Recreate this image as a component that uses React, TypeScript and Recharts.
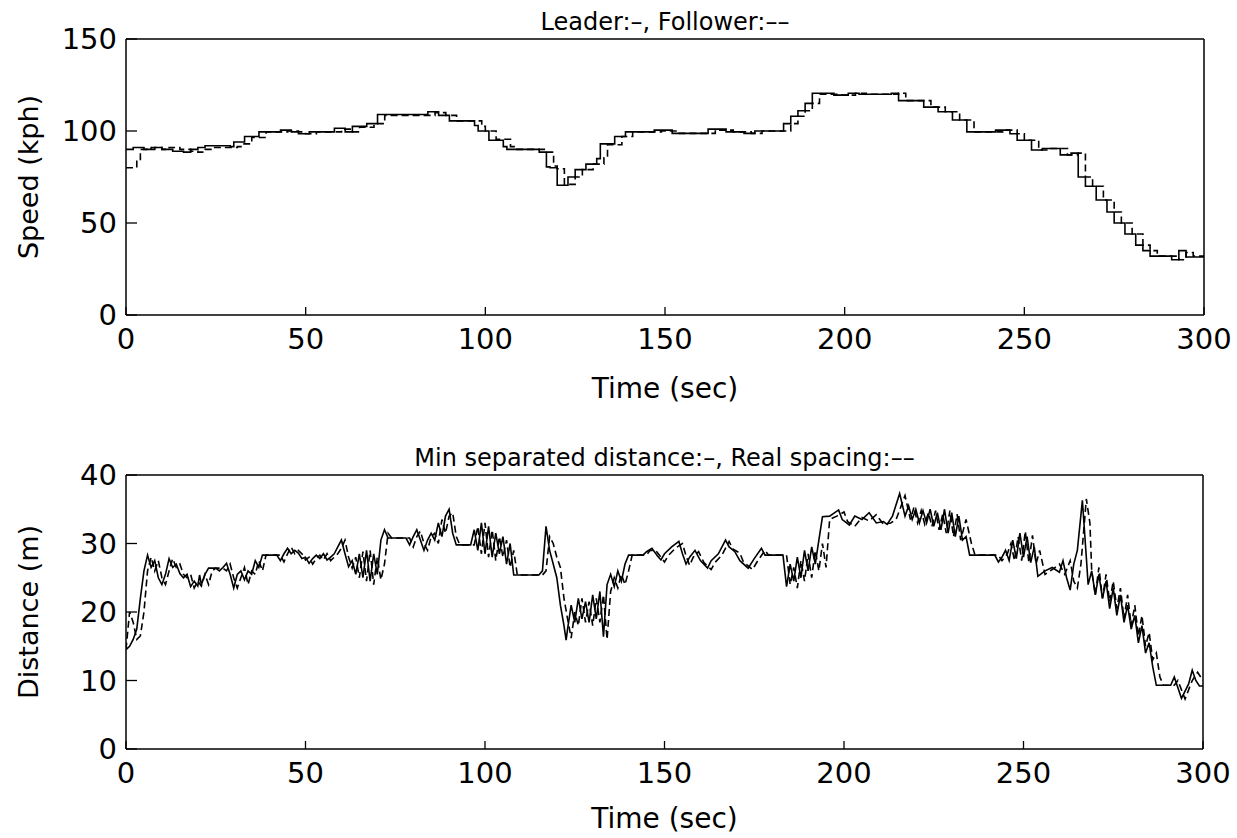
import React from "react";
import { LineChart, Line, XAxis, YAxis } from "recharts";

type Pt = [number, number];

const FONT = '"DejaVu Sans ExtraLight", "DejaVu Sans", "Liberation Sans", sans-serif';

const timeTicks = [0, 50, 100, 150, 200, 250, 300];
const speedTicks = [0, 50, 100, 150];
const distanceTicks = [0, 10, 20, 30, 40];

// speed (kph) of the leading car, [time s, speed]
const leaderSpeed: Pt[] = [
  [0, 90], [2, 91], [5, 90], [8, 91], [10, 90], [13, 89], [16, 88.5], [18, 90], [20, 91], [22, 92],
  [29, 91.5], [30, 94], [33, 97], [37, 99.5], [43, 100.5], [46, 99.5], [48, 98.5], [51, 99.5], [58, 101.5], [61, 99.5],
  [63, 102.5], [67, 104], [70, 109], [84, 110.5], [87, 108.5], [90, 105.5], [97, 103], [98, 100], [101, 95], [105, 91.5],
  [106, 90], [115, 88.5], [117, 80.5], [118, 80], [120, 70.5], [123, 75], [125, 79], [128, 82], [131, 85], [132, 93],
  [136, 97], [139, 99.5], [147, 100.5], [152, 98.7], [162, 101], [167, 99.5], [172, 98.7], [175, 100], [183, 104], [185, 108],
  [187, 111], [189, 115], [191, 120.5], [197, 119.5], [201, 120.5], [204, 120], [213, 120.5], [215, 116.5], [222, 113], [226, 110.5],
  [230, 106], [234, 99.5], [242, 100.5], [246, 98.5], [248, 95], [252, 89.7], [255, 90.5], [260, 87], [263, 88], [265, 75],
  [267, 70], [270, 62.5], [273, 56], [275, 50], [278, 44], [281, 38], [283, 35], [285, 32], [291, 30], [293, 35],
  [295, 31.5], [300, 31.5],
];

// speed (kph) of the following car
const followerSpeed: Pt[] = [
  [0, 80], [3, 84], [4, 90], [7, 91], [10, 90], [12, 91], [15, 90], [18, 89], [20, 88.5], [22, 90],
  [24, 91], [31, 91.5], [32, 93], [35, 96.5], [39, 99.5], [45, 100], [48, 99.5], [50, 98.5], [53, 99.5], [60, 101],
  [63, 99.5], [65, 102], [69, 104], [72, 108.5], [86, 110], [89, 108.5], [92, 105.5], [99, 102.5], [100, 100], [103, 95.5],
  [107, 91.5], [108, 90], [117, 88.5], [119, 81], [120, 79.5], [122, 71], [125, 75], [127, 79], [130, 82], [133, 85.5],
  [134, 92.5], [138, 97], [141, 99.5], [149, 100], [154, 98.7], [164, 100.5], [169, 99.5], [174, 98.7], [177, 100], [185, 104],
  [187, 108], [189, 111], [191, 115], [193, 120], [199, 119.5], [203, 120.5], [206, 120], [215, 120.5], [217, 116.5], [224, 113],
  [228, 110.5], [232, 106], [236, 99.5], [244, 100.5], [248, 98.5], [250, 95], [254, 89.7], [257, 90.5], [262, 87], [265, 88],
  [267, 75], [269, 70], [272, 62.5], [275, 56], [277, 50], [280, 44], [283, 38], [285, 35], [287, 32], [293, 30],
  [295, 34], [297, 32], [300, 31.5],
];

// minimum separated distance (m)
const minSeparation: Pt[] = [
  [0, 14.5], [1, 15], [2, 16], [3, 17.5], [4, 22], [5, 26], [6, 28.3], [7, 26.5], [8, 27.5], [9, 25],
  [10, 24], [11, 25.5], [12, 27.8], [13, 26.5], [14, 27], [15, 25.6], [16, 25], [17, 25.5], [18, 23.7], [19, 24.5],
  [20, 23.8], [20.5, 25.4], [21, 24], [22, 25.5], [23, 26.4], [25, 26.4], [26, 26], [27, 26.5], [28, 27.1], [29, 25.5],
  [30, 23.5], [31, 25.5], [32, 26], [33, 24.7], [34, 26], [35, 25.5], [36, 27.5], [37, 26.5], [38, 28.3], [42, 28.3],
  [43, 27.5], [44, 28.5], [45, 29.3], [46, 28.5], [47, 29], [48, 28.6], [49, 27.8], [50, 28], [51, 27.1], [52, 27.8],
  [53, 28.3], [54, 27.8], [55, 28.5], [56, 27.6], [57, 28], [58, 28.5], [59, 29.5], [60, 30.5], [61, 28.5], [62, 26.6],
  [63, 27.5], [64, 25.5], [65, 28.5], [66, 25], [67, 29], [68, 24.5], [69, 28.5], [70, 25.5], [71, 30.5], [72, 32],
  [73, 30.8], [78, 30.8], [79, 29.8], [80, 31], [81, 32], [82, 30.5], [83, 29], [84, 30.5], [85, 31.5], [86, 30.5],
  [87, 33], [88, 31], [89, 34], [90, 35], [91, 31.5], [92, 29.8], [96, 29.8], [97, 32], [98, 29], [99, 33],
  [100, 28.5], [101, 32.5], [102, 28], [103, 31.5], [104, 28.5], [105, 31], [106, 27], [107, 30], [108, 25.4], [115, 25.4],
  [116, 26], [117, 32.5], [118, 29], [119, 27], [120, 25], [121, 21], [122, 18], [122.6, 15.9], [123, 17.5], [124, 21],
  [125, 18.5], [126, 22], [127, 19], [128, 21.5], [129, 18.5], [130, 22.5], [131, 19], [132, 23], [133, 16.4], [134, 24],
  [135, 25.5], [136, 23.7], [137, 26], [138, 24.5], [139, 27], [140, 28.3], [144, 28.3], [145, 28.8], [146.5, 29.3], [148, 28.2],
  [149, 27.6], [150, 28.5], [152, 29.5], [154, 30.3], [155, 28.5], [156, 27], [157, 28], [158.5, 29], [160, 27.5], [162, 26.4],
  [163, 27.5], [165, 28.5], [167, 30.5], [168, 29.5], [169.6, 28.8], [171, 27.5], [173.3, 26.4], [175, 27.8], [177, 29.3], [178, 28.3],
  [183, 28.3], [184, 23.7], [185, 27], [186, 24.5], [187, 28], [188, 25], [189, 29], [190, 26], [191, 29.5], [192, 27],
  [193, 30.5], [194, 33.9], [196, 34], [198.5, 34.9], [199.5, 33.5], [201.5, 32.7], [203, 34], [205, 33.5], [207, 34.5], [209, 33],
  [211, 33.2], [212, 32.8], [213.5, 34], [215.5, 37.3], [217, 34], [218, 35.5], [219, 33.5], [220, 35], [221, 33], [222, 34.8],
  [223, 33], [224, 35], [225, 32.5], [226, 34.5], [227, 32], [228, 35], [229, 31.5], [230, 34.5], [231, 31], [232, 34],
  [233, 30.5], [234, 31], [235, 28.3], [242, 28.3], [243, 27.3], [244, 28], [245, 29], [246, 27.5], [247, 30.5], [248, 27.8],
  [249, 31.5], [250, 28], [251, 31], [252, 27.2], [253, 29.5], [254, 25.2], [256, 26], [258, 26.5], [260, 25.8], [261, 27.5],
  [262, 25], [263, 23.2], [264, 27], [265, 29], [266.4, 36.3], [267.5, 28], [268, 24], [269, 26], [270, 22.5], [271, 25.5],
  [272, 22], [273, 24.5], [274, 20.5], [275, 23.5], [276, 19.5], [277, 22.5], [278, 18.5], [279, 21], [280, 17.5], [281, 19.5],
  [282, 15.5], [283, 18], [284, 14], [285, 15.5], [286, 12], [287, 9.3], [291, 9.3], [292, 10.5], [294, 7.4], [296, 9.5],
  [297, 11.5], [298, 10], [299, 9.2], [300, 9.2],
];

// real spacing between the two cars (m)
const realSpacing: Pt[] = [
  [0, 14.5], [1, 20], [2, 18.5], [3, 16], [4, 16.5], [5, 20], [6, 26], [7, 28], [8, 26], [9, 27.5],
  [10, 25], [11, 24], [12, 26], [13, 27.8], [14, 26.5], [15, 27], [16, 25.5], [17, 25], [18, 25.5], [19, 23.5],
  [20, 24.5], [21, 23.8], [22, 25.5], [23, 24], [24, 26], [25, 26.4], [27, 26.4], [28, 26], [29, 27], [30, 25],
  [31, 23.5], [32, 25], [33, 26.5], [34, 24], [35, 26], [36, 25.5], [37, 27.5], [38, 26], [39, 28.3], [43, 28.3],
  [44, 27.3], [45, 28.5], [46, 29.5], [47, 28.5], [48, 29], [49, 28.5], [50, 27.6], [51, 28], [52, 27], [53, 27.8],
  [54, 28.3], [55, 27.6], [56, 28.5], [57, 27.5], [58, 28], [59, 28.5], [60, 29.3], [61, 30.5], [62, 28], [63, 26.4],
  [64, 28], [65, 25], [66, 28.8], [67, 24.5], [68, 29], [69, 24], [70, 28], [71, 24.7], [72, 27], [73, 31.5],
  [74, 30.8], [79, 30.8], [80, 29.5], [81, 31], [82, 31.8], [83, 30], [84, 29], [85, 31], [86, 31.5], [87, 30],
  [88, 33.5], [89, 31.5], [90, 34], [91, 34.5], [92, 31], [93, 29.8], [97, 29.8], [98, 32.5], [99, 28.5], [100, 33],
  [101, 28], [102, 32], [103, 27.5], [104, 31], [105, 28], [106, 30.5], [107, 26.5], [108, 29], [109, 25.4], [116, 25.4],
  [117, 26], [118, 31], [119, 30], [120, 28], [121, 26.5], [122, 22], [123, 19], [124, 16.2], [125, 20], [126, 18],
  [127, 22], [128, 18.5], [129, 21.5], [130, 18], [131, 22], [132, 18.5], [133, 22.5], [134, 16], [135, 23], [136, 25],
  [137, 23.5], [138, 25.5], [139, 24], [140, 26], [141, 28.3], [145, 28.3], [146, 29], [147.5, 29], [149, 28], [150, 27.3],
  [151, 28.2], [153, 29.3], [155, 30], [156, 28.2], [157, 26.8], [158, 28], [159.5, 28.8], [161, 27.2], [163, 26.2], [164, 27.2],
  [166, 28.3], [168, 30.3], [169, 29.2], [171, 28.6], [172, 27.3], [174.5, 26.2], [176, 27.5], [178, 29], [179, 28.3], [184, 28.3],
  [185, 24], [186, 26.5], [187, 23.5], [188, 27.5], [189, 24.5], [190, 28.5], [191, 25], [192, 29], [193, 26], [194, 30],
  [195, 26.5], [196, 33.5], [198, 34], [200, 34.6], [201, 33.2], [203, 32.5], [205, 33.8], [207, 33.3], [209, 34.2], [211, 32.8],
  [213, 33], [214.5, 33.5], [217, 37], [218.5, 33.5], [219.5, 35.3], [220.5, 33], [221.5, 34.8], [222.5, 32.8], [223.5, 34.5], [224.5, 32.5],
  [225.5, 34.8], [226.5, 32], [227.5, 34.3], [228.5, 31.5], [229.5, 34.8], [230.5, 31], [231.5, 34.3], [232.5, 30.5], [234, 33.5], [235.5, 30],
  [236.5, 28.3], [243, 28.3], [244, 27.5], [245.5, 28.5], [246.5, 30], [247.5, 27.5], [248.5, 31], [249.5, 27.5], [250.5, 31.8], [251.5, 27.2],
  [252.5, 31.2], [253.5, 27], [254.5, 29], [256, 25.5], [258, 26.2], [260, 27], [261.5, 25.5], [263, 27.5], [264, 24.5], [265, 23.5],
  [266, 27], [267.5, 36.5], [268.5, 33], [269, 26], [270, 22.5], [271, 26.5], [272, 22], [273, 25.5], [274, 21.5], [275, 24.5],
  [276, 20.5], [277, 23.5], [278, 19], [279, 22.5], [280, 18], [281, 21], [282, 16.5], [283, 19.5], [284, 15], [285, 17],
  [286, 13], [287, 14], [288, 10.5], [289, 9.3], [292, 9.3], [293, 10], [295, 7.3], [297, 10], [298.5, 11.2], [300, 10],
];

const rows = (pts: Pt[]) => pts.map(([t, v]) => ({ t, v }));

const W = 1237;
const H = 419;
const AXIS_LEFT = 126;

interface PanelProps {
  solid: Pt[];
  dashed: Pt[];
  curve: "stepAfter" | "linear";
  yMax: number;
  yTicks: number[];
  title: string;
  yLabel: string;
  plotTop: number;
  plotBottom: number;
  plotRight: number;
  xLabelY: number;
}

const Panel = (p: PanelProps) => {
  const cx = AXIS_LEFT + (p.plotRight - AXIS_LEFT) / 2;
  const cy = (p.plotTop + p.plotBottom) / 2;
  const txt = { fontFamily: FONT, fill: "#000" };
  const tickStyle = { ...txt, fontSize: 29 };

  const titleContent = () => (
    <text x={cx} y={p.plotTop - 9} textAnchor="middle" fontSize={24} {...txt}>
      {p.title}
    </text>
  );
  const xLabelContent = () => (
    <text x={cx} y={p.xLabelY} textAnchor="middle" fontSize={28} {...txt}>
      Time (sec)
    </text>
  );
  const yLabelContent = () => (
    <text
      x={28}
      y={cy}
      transform={`rotate(-90 28 ${cy})`}
      textAnchor="middle"
      dominantBaseline="central"
      fontSize={27}
      {...txt}
    >
      {p.yLabel}
    </text>
  );

  const axisLine = { stroke: "#000", strokeWidth: 1.5 };
  const tickLine = { stroke: "#000", strokeWidth: 1.3 };

  return (
    <LineChart
      width={W}
      height={H}
      margin={{ top: p.plotTop - 1, right: W - p.plotRight - 1, bottom: 0, left: 0 }}
    >
      <XAxis
        xAxisId="b"
        dataKey="t"
        type="number"
        domain={[0, 300]}
        ticks={timeTicks}
        allowDataOverflow
        height={H - p.plotBottom}
        tickSize={-8}
        tickMargin={21}
        tick={tickStyle}
        axisLine={axisLine}
        tickLine={tickLine}
        label={{ value: "Time (sec)", content: xLabelContent }}
      />
      <XAxis
        xAxisId="t"
        orientation="top"
        dataKey="t"
        type="number"
        domain={[0, 300]}
        ticks={timeTicks}
        allowDataOverflow
        height={1}
        tickSize={-8}
        tick={false}
        axisLine={axisLine}
        tickLine={tickLine}
        label={{ value: p.title, content: titleContent }}
      />
      <YAxis
        yAxisId="l"
        type="number"
        domain={[0, p.yMax]}
        ticks={p.yTicks}
        allowDataOverflow
        width={AXIS_LEFT}
        tickSize={-11}
        tickMargin={20}
        tick={tickStyle}
        axisLine={axisLine}
        tickLine={tickLine}
        label={{ value: p.yLabel, content: yLabelContent }}
      />
      <YAxis
        yAxisId="r"
        orientation="right"
        type="number"
        domain={[0, p.yMax]}
        ticks={p.yTicks}
        allowDataOverflow
        width={1}
        tickSize={-11}
        tick={false}
        axisLine={axisLine}
        tickLine={tickLine}
      />
      <Line
        xAxisId="b"
        yAxisId="l"
        data={rows(p.dashed)}
        dataKey="v"
        type={p.curve}
        stroke="#000"
        strokeWidth={1.6}
        strokeDasharray="7 4"
        dot={false}
        activeDot={false}
        isAnimationActive={false}
      />
      <Line
        xAxisId="b"
        yAxisId="l"
        data={rows(p.solid)}
        dataKey="v"
        type={p.curve}
        stroke="#000"
        strokeWidth={1.6}
        dot={false}
        activeDot={false}
        isAnimationActive={false}
      />
    </LineChart>
  );
};

export default function App() {
  return (
    <div style={{ position: "absolute", left: 0, top: 0, width: W, height: 838, background: "#fff" }}>
      <Panel
        solid={leaderSpeed}
        dashed={followerSpeed}
        curve="stepAfter"
        yMax={150}
        yTicks={speedTicks}
        title="Leader:–, Follower:––"
        yLabel="Speed (kph)"
        plotTop={39}
        plotBottom={315}
        plotRight={1204}
        xLabelY={398}
      />
      <Panel
        solid={minSeparation}
        dashed={realSpacing}
        curve="linear"
        yMax={40}
        yTicks={distanceTicks}
        title="Min separated distance:–, Real spacing:––"
        yLabel="Distance (m)"
        plotTop={56}
        plotBottom={330}
        plotRight={1203}
        xLabelY={409}
      />
    </div>
  );
}
